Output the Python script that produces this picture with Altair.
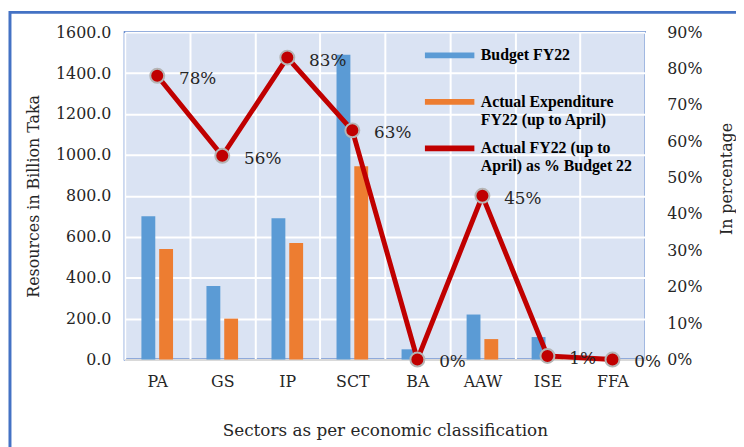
import altair as alt
import pandas as pd

sectors = ["PA", "GS", "IP", "SCT", "BA", "AAW", "ISE", "FFA"]
budget = [700, 360, 690, 1490, 50, 220, 110, 0]
actual = [540, 200, 570, 945, 0, 100, 1.5, 0]
pct = [78, 56, 83, 63, 0, 45, 1, 0]
pct_labels = ["78%", "56%", "83%", "63%", "0%", "45%", "1%", "0%"]
series_names = [
    "Budget FY22",
    "Actual Expenditure|FY22 (up to April)",
    "Actual FY22 (up to|April)  as % Budget 22",
]
series_colors = ["#5b9bd5", "#ed7d31", "#c00000"]

bar_df = pd.DataFrame(
    {
        "sector": sectors * 2,
        "value": budget + actual,
        "series": [series_names[0]] * len(sectors) + [series_names[1]] * len(sectors),
    }
)
line_df = pd.DataFrame(
    {
        "sector": sectors,
        "pct": [p / 100 for p in pct],
        "label": pct_labels,
        "series": [series_names[2]] * len(sectors),
    }
)

FONT = "DejaVu Serif"

x_enc = alt.X(
    "sector:N",
    sort=sectors,
    scale=alt.Scale(paddingInner=0, paddingOuter=0),
    axis=alt.Axis(
        title="Sectors as per economic classification",
        grid=True,
        tickBand="extent",
        ticks=False,
        labelAngle=0,
        labelPadding=14,
        titlePadding=34,
        domainColor="#d9d9d9",
        domainWidth=2,
    ),
)

color_scale = alt.Scale(domain=series_names, range=series_colors)

bars = (
    alt.Chart(bar_df)
    .mark_bar()
    .encode(
        x=x_enc,
        xOffset=alt.XOffset(
            "series:N",
            sort=series_names[:2],
            scale=alt.Scale(paddingInner=0.22, paddingOuter=0.94),
        ),
        y=alt.Y(
            "value:Q",
            scale=alt.Scale(domain=[0, 1600], nice=False),
            axis=alt.Axis(
                title="Resources in Billion Taka",
                values=list(range(0, 1601, 200)),
                format=".1f",
                ticks=False,
                domain=False,
                labelPadding=14,
                titlePadding=14,
            ),
        ),
        color=alt.Color(
            "series:N",
            scale=color_scale,
            legend=alt.Legend(
                title=None,
                orient="none",
                legendX=313,
                legendY=8,
                symbolType="M-2,0H2",
                symbolSize=625,
                symbolStrokeWidth=6,
                labelFont="Liberation Serif",
                labelFontWeight="bold",
                labelFontSize=16,
                labelLimit=300,
                labelOffset=16,
                gridAlign="all",
                rowPadding=5,
                labelExpr="split(datum.label, '|')",
            ),
        ),
    )
)

base = alt.Chart(line_df).encode(
    x=alt.X("sector:N", sort=sectors),
    y=alt.Y(
        "pct:Q",
        scale=alt.Scale(domain=[0, 0.9], nice=False),
        axis=alt.Axis(
            orient="right",
            title="In percentage",
            titleAngle=270,
            titleX=82,
            titleY=148,
            titleAlign="center",
            titleBaseline="middle",
            values=[i / 10 for i in range(10)],
            format=".0%",
            ticks=False,
            domain=False,
            grid=False,
            labelPadding=22,
        ),
    ),
)

line = base.mark_line(strokeWidth=5).encode(color=alt.Color("series:N", scale=color_scale))
points = base.mark_circle(size=200, color="#c00000", opacity=1, stroke="#b5b5b5", strokeWidth=2)
texts = base.mark_text(align="left", baseline="middle", dx=22, dy=3, font=FONT, fontSize=17, color="#262626").encode(
    text="label:N"
)

frame = (
    alt.Chart(pd.DataFrame({"k": [0]}))
    .mark_rect(fill=None, stroke="#4472c4", strokeWidth=3)
    .encode(x=alt.value(-116), x2=alt.value(700), y=alt.value(-20), y2=alt.value(500))
)

chart = (
    alt.layer(frame, bars, alt.layer(line, points, texts))
    .resolve_scale(y="independent")
    .properties(
        width=526,
        height=331,
        autosize=alt.AutoSizeParams(type="none"),
        padding={"left": 118, "top": 22, "right": 92, "bottom": 86},
        background="white",
    )
    .configure_view(fill="#dae3f3", stroke="#4472c4", strokeWidth=2)
    .configure_axis(
        labelFont=FONT,
        labelFontSize=16,
        labelColor="#262626",
        titleFont=FONT,
        titleFontSize=16,
        titleFontWeight="normal",
        titleColor="#262626",
        gridColor="white",
        gridWidth=2,
    )
    .configure_axisX(titleFontSize=17)
)

chart.save("out.html", embed_options={"renderer": "svg", "actions": False})
